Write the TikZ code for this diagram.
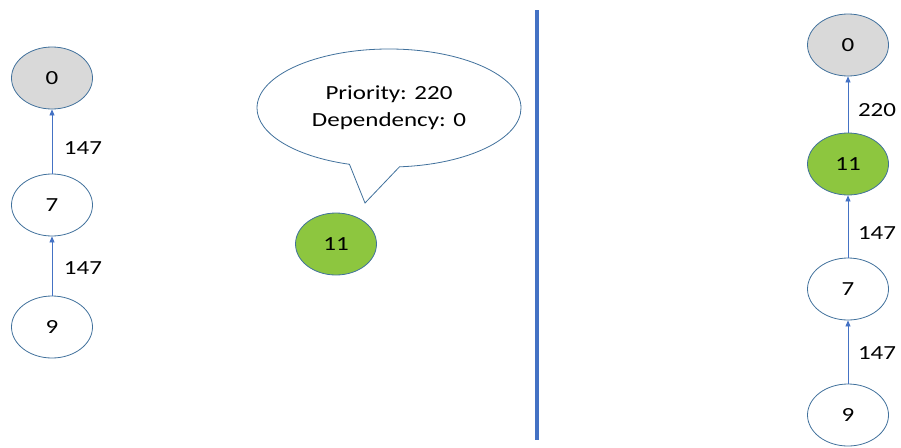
\documentclass[tikz,border=0pt]{standalone}
\usepackage{fontspec}
\setmainfont{Carlito}[FakeStretch=1.25]
\usetikzlibrary{shapes.geometric,shapes.callouts,arrows.meta}
\definecolor{edgeblue}{HTML}{4472C4}
\definecolor{ringblue}{HTML}{41719C}
\definecolor{nodegreen}{HTML}{8DC63F}
\definecolor{nodegray}{HTML}{D9D9D9}
\tikzset{
  vert/.style={ellipse, draw=ringblue, line width=0.8pt, fill=white, minimum width=81pt, minimum height=62pt, inner sep=0pt, font=\fontsize{20}{24}\selectfont},
  rootv/.style={vert, fill=nodegray},
  newv/.style={vert, fill=nodegreen},
  link/.style={draw=edgeblue, line width=0.8pt, -{Triangle[length=6pt,width=5pt]}},
  wlabel/.style={font=\fontsize{20}{24}\selectfont, text=black},
}
\begin{document}
\begin{tikzpicture}[x=1pt,y=-1pt]
\useasboundingbox (0,0) rectangle (901,447);
% left tree
\node[rootv] (L0) at (52,78) {0};
\node[vert] (L7) at (52,205) {7};
\node[vert] (L9) at (52,327) {9};
\draw[link] (L7) -- (L0);
\draw[link] (L9) -- (L7);
\node[wlabel] (l1) at (83,148) {147};
\node[wlabel] (l2) at (83,268) {147};
% new node with callout
\node[newv] (N11) at (336,244) {11};
\coordinate (tip) at (365,203);
\node[ellipse callout, draw=ringblue, line width=0.8pt, fill=white, minimum width=264pt, minimum height=118pt, callout absolute pointer={(tip)}, callout pointer arc=22, align=center, font=\fontsize{20}{27}\selectfont] (bubble) at (389,108) {Priority: 220\\Dependency: 0};
% separator
\coordinate (s1) at (537,10);
\coordinate (s2) at (537,440);
\draw[edgeblue, line width=3.5pt] (s1) -- (s2);
% right tree
\node[rootv] (R0) at (848,45) {0};
\node[newv] (R11) at (848,164) {11};
\node[vert] (R7) at (848,289) {7};
\node[vert] (R9) at (848,415) {9};
\draw[link] (R11) -- (R0);
\draw[link] (R7) -- (R11);
\draw[link] (R9) -- (R7);
\node[wlabel] (r1) at (877,110) {220};
\node[wlabel] (r2) at (877,233) {147};
\node[wlabel] (r3) at (877,353) {147};
\end{tikzpicture}
\end{document}
